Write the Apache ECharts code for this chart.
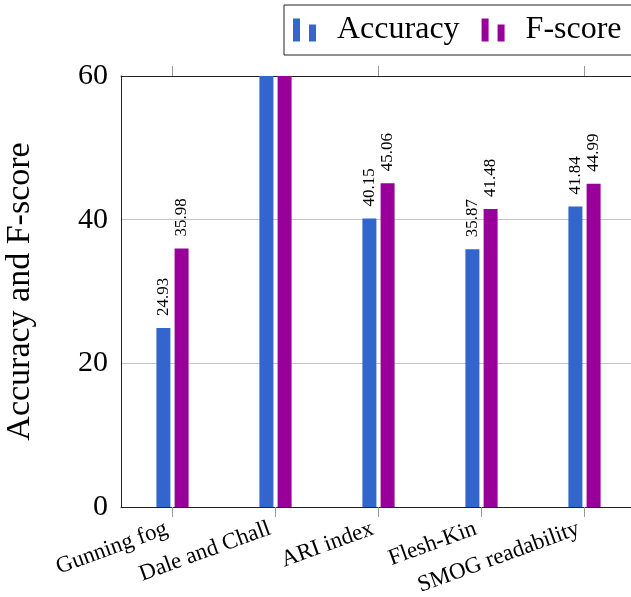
<!DOCTYPE html>
<html>
<head>
<meta charset="utf-8">
<script src="https://cdn.jsdelivr.net/npm/echarts@6/dist/echarts.min.js"></script>
<style>
  html, body { margin: 0; padding: 0; background: #fff; }
  #chart { width: 631px; height: 597px; }
</style>
</head>
<body>
<div id="chart"></div>
<script>
// Readability measures on the x axis
const categories = ['Gunning fog', 'Dale and Chall', 'ARI index', 'Flesh-Kin', 'SMOG readability'];
// Scores per measure (Dale and Chall runs past the top of the axis)
const accuracy = [24.93, 64.20, 40.15, 35.87, 41.84];
const fscore   = [35.98, 66.10, 45.06, 41.48, 44.99];
// Value axis
const yTicks = [0, 20, 40, 60];
const yMin = yTicks[0];
const yMax = yTicks[yTicks.length - 1];

const serif = '"Liberation Serif", "DejaVu Serif", serif';
const legendIcon = 'path://M0,0h7v23h-7zM16,6h7v17h-7z';

function barLabel(params) {
  return params.value > yMax ? '' : params.value.toFixed(2);
}

const labelStyle = {
  show: true,
  position: 'top',
  rotate: 90,
  align: 'left',
  verticalAlign: 'middle',
  distance: 12,
  fontFamily: serif,
  fontSize: 17,
  color: '#000',
  formatter: barLabel
};

const chart = echarts.init(document.getElementById('chart'), null, { renderer: 'canvas' });

chart.setOption({
  animation: false,
  backgroundColor: '#fff',
  grid: { left: 121, top: 76, bottom: 90, width: 515, containLabel: false, outerBoundsMode: 'none' },
  legend: {
    left: 284,
    top: 5,
    width: 380,
    orient: 'horizontal',
    borderColor: '#222',
    borderWidth: 1,
    padding: [9, 24, 9, 9],
    itemWidth: 23,
    itemHeight: 23,
    itemGap: 22,
    icon: legendIcon,
    textStyle: { fontFamily: serif, fontSize: 32, color: '#000', padding: [0, 0, 0, 16] },
    data: ['Accuracy', 'F-score']
  },
  xAxis: [
    {
      type: 'category',
      data: categories,
      position: 'bottom',
      axisLine: { show: true, lineStyle: { color: '#222', width: 1 } },
      axisTick: { show: true, alignWithLabel: true, length: 10, lineStyle: { color: '#999' } },
      axisLabel: {
        interval: 0,
        rotate: 20,
        margin: 19,
        padding: [0, 6, 0, 0],
        fontFamily: serif,
        fontSize: 23,
        color: '#000'
      },
      splitLine: { show: false }
    },
    {
      type: 'category',
      data: categories,
      position: 'top',
      axisLine: { show: true, lineStyle: { color: '#222', width: 1 } },
      axisTick: { show: true, alignWithLabel: true, length: 10, lineStyle: { color: '#999' } },
      axisLabel: { show: false },
      splitLine: { show: false }
    }
  ],
  yAxis: {
    type: 'value',
    min: yMin,
    max: yMax,
    interval: 20,
    name: 'Accuracy and F-score',
    nameLocation: 'middle',
    nameGap: 84,
    nameTextStyle: { fontFamily: serif, fontSize: 34, color: '#000' },
    axisLine: { show: true, lineStyle: { color: '#222', width: 1 } },
    axisTick: { show: false },
    axisLabel: { margin: 13, fontFamily: serif, fontSize: 30, color: '#000' },
    splitLine: { show: true, lineStyle: { color: '#c4c4c4', width: 1 } }
  },
  series: [
    {
      name: 'Accuracy',
      type: 'bar',
      data: accuracy,
      barWidth: 14,
      barGap: '30%',
      clip: true,
      itemStyle: { color: '#3366cc' },
      label: labelStyle
    },
    {
      name: 'F-score',
      type: 'bar',
      data: fscore,
      barWidth: 14,
      barGap: '30%',
      clip: true,
      itemStyle: { color: '#990099' },
      label: labelStyle
    }
  ]
});
</script>
</body>
</html>
